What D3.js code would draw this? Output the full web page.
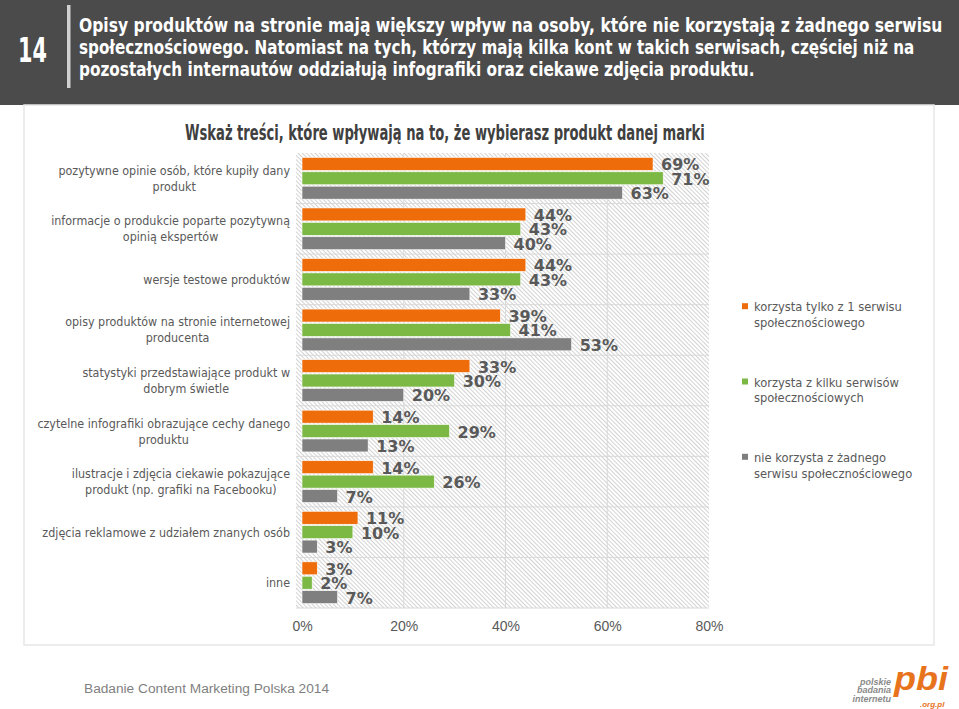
<!DOCTYPE html>
<html><head><meta charset="utf-8">
<script src="https://cdn.jsdelivr.net/npm/d3@7"></script>
<style>body{margin:0;background:#fff;} svg{display:block}</style>
</head><body>
<svg id="chart" width="959" height="709"></svg>
<script>
// ---------- data ----------
const categories = [
  ["pozytywne opinie osób, które kupiły dany", "produkt"],
  ["informacje o produkcie poparte pozytywną", "opinią ekspertów"],
  ["wersje testowe produktów"],
  ["opisy produktów na stronie internetowej", "producenta"],
  ["statystyki przedstawiające produkt w", "dobrym świetle"],
  ["czytelne infografiki obrazujące cechy danego", "produktu"],
  ["ilustracje i zdjęcia ciekawie pokazujące", "produkt (np. grafiki na Facebooku)"],
  ["zdjęcia reklamowe z udziałem znanych osób"],
  ["inne"]
];
const seriesNames = [
  ["korzysta tylko z 1 serwisu", "społecznościowego"],
  ["korzysta z kilku serwisów", "społecznościowych"],
  ["nie korzysta z żadnego", "serwisu społecznościowego"]
];
const oneService   = [69, 44, 44, 39, 33, 14, 14, 11, 3];
const multiService = [71, 43, 43, 41, 30, 29, 26, 10, 2];
const noService    = [63, 40, 33, 53, 20, 13, 7, 3, 7];
const xTicks = [0, 20, 40, 60, 80];
const headerNumber = "14";
const headerLines = [
  "Opisy produktów na stronie mają większy wpływ na osoby, które nie korzystają z żadnego serwisu",
  "społecznościowego. Natomiast na tych, którzy mają kilka kont w takich serwisach, częściej niż na",
  "pozostałych internautów oddziałują infografiki oraz ciekawe zdjęcia produktu."
];
const chartTitle = "Wskaż treści, które wpływają na to, że wybierasz produkt danej marki";
const footerText = "Badanie Content Marketing Polska 2014";
const logoWords = ["polskie", "badania", "internetu"];

// ---------- styles ----------
const colors = ["#ef6c0a", "#7cb844", "#7f7f7f"];
const series = [oneService, multiService, noService];
const textGray = "#595959";
const condensed = "'DejaVu Sans Condensed', 'Liberation Sans Narrow', sans-serif";
const labelFont = "'DejaVu Sans Condensed', 'DejaVu Sans', sans-serif";

const svg = d3.select("#chart");

// tall condensed headline text: fitted to width and cap height
function fitText(txt, x0, base, width, cap, fill) {
  const t = svg.append("text").text(txt)
    .attr("font-family", condensed).attr("font-weight", "bold").attr("font-size", 20)
    .attr("fill", fill);
  const w = t.node().getComputedTextLength();
  const sx = width / w, sy = cap / (0.729 * 20);
  t.attr("transform", `translate(${x0},${base}) scale(${sx},${sy})`);
  return t;
}

// header
svg.append("rect").attr("x", 0).attr("y", 0).attr("width", 959).attr("height", 105).attr("fill", "#4b4b4b");
fitText(headerNumber, 18, 62, 29, 25, "#fff");
svg.append("rect").attr("x", 67).attr("y", 5).attr("width", 3.5).attr("height", 83).attr("fill", "#d0d0d0");
const headerEnds = [943, 915, 755];
const headerBase = [32, 54, 76];
headerLines.forEach((t, i) => fitText(t, 79, headerBase[i], headerEnds[i] - 79, 14, "#fff"));

// chart box
svg.append("rect").attr("x", 24).attr("y", 105).attr("width", 910).attr("height", 540)
  .attr("fill", "#fff").attr("stroke", "#e6e6e6").attr("stroke-width", 1.5);

// title
fitText(chartTitle, 185, 140, 520, 15, "#404040");

// scales
const x = d3.scaleLinear().domain([0, 80]).range([302, 709]);
const y = d3.scaleBand().domain(d3.range(categories.length)).range([153, 608]);
const bw = y.bandwidth();
const ys = d3.scaleBand().domain([0, 1, 2]).range([4.4, bw - 4.4]).paddingInner(0.1);

// hatched plot background
const defs = svg.append("defs");
const pat = defs.append("pattern").attr("id", "hatch").attr("patternUnits", "userSpaceOnUse")
  .attr("width", 3).attr("height", 3).attr("patternTransform", "rotate(-45)");
pat.append("rect").attr("width", 3).attr("height", 3).attr("fill", "#fff");
pat.append("line").attr("x1", 0.5).attr("y1", 0).attr("x2", 0.5).attr("y2", 3)
  .attr("stroke", "#d2d2d2").attr("stroke-width", 1);
svg.append("rect").attr("x", 296).attr("y", 153).attr("width", x(80) - 296).attr("height", 608 - 153)
  .attr("fill", "url(#hatch)");

// gridlines
svg.append("g").selectAll("line").data(xTicks.slice(1, -1)).join("line")
  .attr("x1", d => x(d)).attr("x2", d => x(d)).attr("y1", 153).attr("y2", 608)
  .attr("stroke", "#d9d9d9").attr("stroke-width", 1);
svg.append("g").selectAll("line").data(d3.range(1, categories.length + 1)).join("line")
  .attr("x1", 296).attr("x2", x(80))
  .attr("y1", d => d === categories.length ? 608 : y(d))
  .attr("y2", d => d === categories.length ? 608 : y(d))
  .attr("stroke", "#d9d9d9").attr("stroke-width", 1);

// bars
const groups = svg.append("g").selectAll("g").data(categories).join("g")
  .attr("transform", (d, i) => `translate(0,${y(i)})`);
groups.each(function (c, i) {
  const g = d3.select(this);
  series.forEach((s, k) => {
    g.append("rect").attr("x", x(0)).attr("y", ys(k))
      .attr("width", x(s[i]) - x(0)).attr("height", ys.bandwidth())
      .attr("fill", colors[k]).attr("stroke", "#ffffff").attr("stroke-width", 0.6);
  });
});
// value labels
groups.each(function (c, i) {
  const g = d3.select(this);
  series.forEach((s, k) => {
    g.append("text").text(s[i] + "%")
      .attr("x", x(s[i]) + 8).attr("y", ys(k) + ys.bandwidth() / 2 + 6.5)
      .attr("font-family", "'DejaVu Sans', Verdana, sans-serif").attr("font-weight", "bold")
      .attr("font-size", 16).attr("fill", textGray);
  });
});

// category labels
const catG = svg.append("g");
categories.forEach((lines, i) => {
  const cy = y(i) + bw / 2;
  const texts = lines.map((l, j) => catG.append("text").text(l)
    .attr("font-family", labelFont).attr("font-size", 12.4).attr("fill", textGray)
    .attr("text-anchor", "middle")
    .attr("y", cy + (j - (lines.length - 1) / 2) * 16 + 4.5));
  const maxW = d3.max(texts, t => t.node().getComputedTextLength());
  texts.forEach(t => t.attr("x", 290 - maxW / 2));
});

// x axis
const axis = svg.append("g").attr("transform", "translate(0,608)")
  .call(d3.axisBottom(x).tickValues(xTicks).tickFormat(d => d + "%").tickSize(0).tickPadding(13));
axis.select(".domain").remove();
axis.selectAll("text").attr("font-family", "'Liberation Sans', Arial, sans-serif")
  .attr("font-size", 14).attr("fill", textGray);

// legend
const leg = svg.append("g");
seriesNames.forEach((lines, k) => {
  const top = 306.7 + k * 75.3;
  leg.append("rect").attr("x", 742).attr("y", top - 3.5).attr("width", 6).attr("height", 6).attr("fill", colors[k]);
  lines.forEach((l, j) => {
    leg.append("text").text(l).attr("x", 754).attr("y", top + j * 15.8 + 4.5)
      .attr("font-family", labelFont).attr("font-size", 12.8).attr("fill", textGray);
  });
});

// footer
svg.append("text").text(footerText).attr("x", 84).attr("y", 693)
  .attr("font-family", "'Liberation Sans', Arial, sans-serif").attr("font-size", 13.7).attr("fill", "#7f7f7f");

// logo
const logo = svg.append("g");
logoWords.forEach((t, i) => {
  logo.append("text").text(t).attr("x", 891).attr("y", 685 + i * 8.3)
    .attr("text-anchor", "end").attr("font-family", "'Liberation Sans', Arial, sans-serif")
    .attr("font-weight", "bold").attr("font-style", "italic").attr("font-size", 9).attr("fill", "#8a8a8a");
});
logo.append("text").text("pbi").attr("x", 894).attr("y", 690)
  .attr("font-family", "'Liberation Sans', Arial, sans-serif").attr("font-weight", "bold")
  .attr("font-style", "italic").attr("font-size", 33).attr("textLength", 54).attr("lengthAdjust", "spacingAndGlyphs")
  .attr("fill", "#e8731d");
logo.append("text").text(".org.pl").attr("x", 920).attr("y", 706.5)
  .attr("font-family", "'Liberation Sans', Arial, sans-serif").attr("font-weight", "bold")
  .attr("font-style", "italic").attr("font-size", 8).attr("fill", "#e8731d");
</script>
</body></html>
